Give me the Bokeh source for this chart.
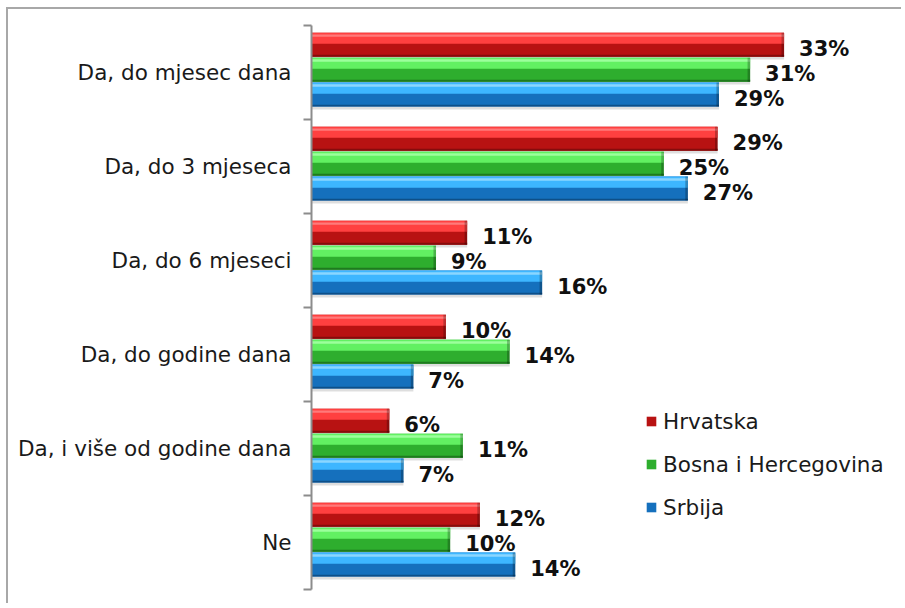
from bokeh.plotting import figure
from bokeh.models import (Range1d, LinearAxis, FixedTicker, Legend, LegendItem)
from bokeh.transform import dodge
from bokeh.embed import file_html
from bokeh.resources import INLINE
from bokeh.core.properties import value

categories = ["Da, do mjesec dana", "Da, do 3 mjeseca", "Da, do 6 mjeseci",
              "Da, do godine dana", "Da, i više od godine dana", "Ne"]
series = ["Hrvatska", "Bosna i Hercegovina", "Srbija"]
hrvatska = [33.4, 28.7, 11.0, 9.5, 5.5, 11.9]
bih = [31.0, 24.9, 8.8, 14.0, 10.7, 9.8]
srbija = [28.8, 26.6, 16.3, 7.2, 6.5, 14.4]

values = [hrvatska, bih, srbija]
n = len(categories)
# category centres on a numeric axis, top to bottom
centres = [n - 0.5 - i for i in range(n)]
offsets = [0.295, 0.03, -0.235]
bar_h = 0.255
dark = ["#b81212", "#2eae2e", "#1570bd"]
bright = ["#ff4040", "#62f062", "#3db6ff"]
light = ["#ff7a7a", "#9cff9c", "#8ad6ff"]
edge = ["#850c0c", "#1f7a1f", "#0e4f88"]

FONT = "DejaVu Sans"

p = figure(width=895, height=596,
           y_range=Range1d(0, n), x_range=Range1d(0, 41.84),
           x_axis_location=None, y_axis_location=None,
           toolbar_location=None, output_backend="svg",
           min_border_left=303, min_border_right=0,
           min_border_top=16, min_border_bottom=16)
p.outline_line_color = None
p.xgrid.visible = False
p.ygrid.visible = False
p.background_fill_color = "white"
p.border_fill_color = "white"
p.styles = {"border-top": "2px solid #a8a8a8", "border-left": "2px solid #a8a8a8",
            "margin-left": "6px", "margin-top": "7px"}

base_renderers = []
for i, vals in enumerate(values):
    data = dict(c=centres, v=vals, vend=[v - 0.18 for v in vals],
                lab=[f"{int(v + 0.5)}%" for v in vals])
    off = offsets[i]
    # shadow
    p.hbar(y=dodge("c", off - 0.03), left=0, right="v",
           height=bar_h, source=data, fill_color="#000000", fill_alpha=0.13,
           line_color=None)
    r = p.hbar(y=dodge("c", off), left=0, right="v",
               height=bar_h, source=data, fill_color=dark[i], line_color=None)
    base_renderers.append(r)
    # bottom darker edge
    p.hbar(y=dodge("c", off - bar_h / 2 + bar_h * 0.04),
           left=0, right="v", height=bar_h * 0.08, source=data,
           fill_color=edge[i], line_color=None)
    # upper bright part
    p.hbar(y=dodge("c", off + bar_h / 2 - bar_h * 0.23),
           left=0, right="v", height=bar_h * 0.46, source=data,
           fill_color=bright[i], line_color=None)
    # top highlight
    p.hbar(y=dodge("c", off + bar_h / 2 - bar_h * 0.12),
           left=0, right="v", height=bar_h * 0.1, source=data,
           fill_color=light[i], line_color=None)
    # darker bevel at the bar end
    p.hbar(y=dodge("c", off), left="vend", right="v", height=bar_h,
           source=data, fill_color="#000000", fill_alpha=0.25, line_color=None)
    # value labels
    p.text(x="v", y=dodge("c", off), text="lab", source=data,
           x_offset=15, y_offset=4, text_font=value(FONT),
           text_font_style="bold", text_font_size="21px",
           text_baseline="middle", text_align="left", text_color="#101010")

tick_axis = LinearAxis(ticker=FixedTicker(ticks=list(range(n + 1))),
                       major_tick_out=8, major_tick_in=0,
                       minor_tick_line_color=None,
                       axis_line_color="#8c8c8c", axis_line_width=2,
                       major_tick_line_color="#8c8c8c", major_tick_line_width=2,
                       major_label_overrides={i: "" for i in range(n + 1)},
                       major_label_standoff=0)
cat_axis = LinearAxis(ticker=FixedTicker(ticks=centres),
                      axis_line_color=None, major_tick_line_color=None,
                      minor_tick_line_color=None,
                      major_label_overrides={c: cat for c, cat in zip(centres, categories)},
                      major_label_standoff=6,
                      major_label_text_font_size="21.5px",
                      major_label_text_font=FONT,
                      major_label_text_color="#1a1a1a")
p.add_layout(tick_axis, "left")
p.add_layout(cat_axis, "left")

legend = Legend(items=[LegendItem(label=s, renderers=[base_renderers[i]])
                       for i, s in enumerate(series)],
                location=(334, 62), border_line_color=None,
                background_fill_alpha=0, padding=0, margin=0, spacing=3,
                label_height=40, glyph_height=12, glyph_width=12,
                label_standoff=6, label_text_font_size="21.5px",
                label_text_font=FONT, label_text_color="#1a1a1a")
p.add_layout(legend)

open("out.html", "w").write(file_html(p, INLINE))
